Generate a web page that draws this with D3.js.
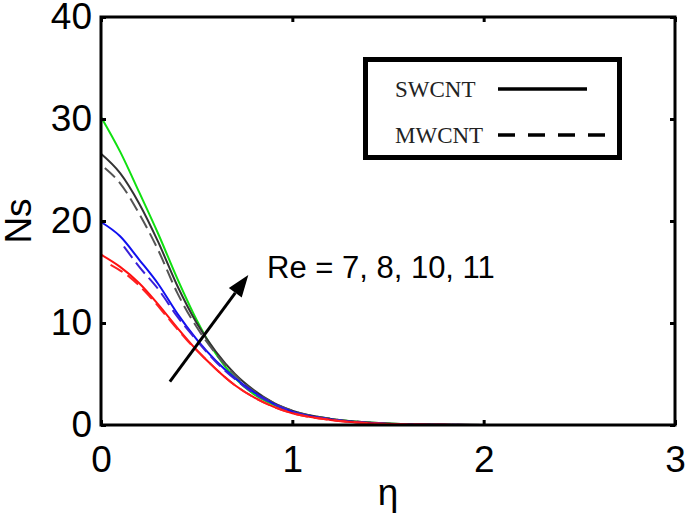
<!DOCTYPE html>
<html>
<head>
<meta charset="utf-8">
<script src="https://cdn.jsdelivr.net/npm/d3@7"></script>
<style>
  body { margin: 0; background: #fff; }
  svg { display: block; }
  .axis text { font-family: "Liberation Sans", Arial, sans-serif; font-size: 37px; fill: #000; }
  .axis line { stroke: #000; stroke-width: 3px; }
  .axis .domain { display: none; }
</style>
</head>
<body>
<div id="chart"></div>
<script>
// values
var xTicks = [0, 1, 2, 3];
var yTicks = [0, 10, 20, 30, 40];

// solid curves (SWCNT)
var etaSolid = [0, 0.1, 0.2, 0.3, 0.4, 0.5, 0.6, 0.7, 0.8, 0.9, 1.0, 1.2, 1.4, 1.6, 2.0, 2.5, 3.0];
var nsRe11Sw = [30.2, 26.8, 22.8, 18.7, 14.3, 10.3, 7.0, 4.6, 3.0, 2.0, 1.3, 0.6, 0.25, 0.08, 0, 0, 0];
var nsRe10Sw = [26.6, 24.7, 21.7, 17.9, 13.6, 10.0, 7.2, 5.0, 3.4, 2.2, 1.4, 0.6, 0.25, 0.08, 0, 0, 0];
var nsRe8Sw  = [19.9, 18.5, 16.2, 13.8, 10.9, 8.4, 6.3, 4.6, 3.2, 2.1, 1.3, 0.55, 0.2, 0.06, 0, 0, 0];
var nsRe7Sw  = [16.7, 15.5, 13.9, 11.8, 9.5, 7.35, 5.5, 3.9, 2.7, 1.8, 1.15, 0.5, 0.18, 0.05, 0, 0, 0];

// dashed curves (MWCNT)
var etaRe10Mw = [0.02, 0.1, 0.2, 0.3, 0.4, 0.5, 0.6, 0.7, 0.8, 0.9, 1.0, 1.2, 1.4, 1.6, 2.0];
var nsRe10Mw  = [25.2, 23.7, 20.7, 17.1, 12.9, 9.6, 7.0, 4.9, 3.3, 2.2, 1.4, 0.6, 0.25, 0.08, 0];
var etaRe8Mw  = [0.12, 0.2, 0.3, 0.4, 0.5, 0.6, 0.7, 0.8, 0.9, 1.0, 1.2, 1.4, 1.6, 2.0];
var nsRe8Mw   = [17.5, 15.5, 13.3, 10.6, 8.3, 6.2, 4.5, 3.1, 2.1, 1.3, 0.55, 0.2, 0.06, 0];
var etaRe7Mw  = [0.05, 0.15, 0.25, 0.35, 0.45, 0.55, 0.7, 0.8, 0.9, 1.0, 1.2, 1.4, 1.6, 2.0];
var nsRe7Mw   = [15.7, 14.5, 12.7, 10.5, 8.3, 6.4, 3.9, 2.7, 1.8, 1.15, 0.5, 0.18, 0.05, 0];

// arrow (data coords) and its label
var arrowFrom = [0.36, 4.25];
var arrowTo = [0.77, 14.7];
var arrowLabel = "Re = 7, 8, 10, 11";
var legendNames = ["SWCNT", "MWCNT"];

var series = [
  {eta: etaSolid,  ns: nsRe11Sw, color: "#10e010", dash: null},
  {eta: etaSolid,  ns: nsRe10Sw, color: "#333333", dash: null},
  {eta: etaRe10Mw, ns: nsRe10Mw, color: "#555555", dash: "14,6"},
  {eta: etaSolid,  ns: nsRe8Sw,  color: "#1010f0", dash: null},
  {eta: etaRe8Mw,  ns: nsRe8Mw,  color: "#3a20d8", dash: "14,6"},
  {eta: etaSolid,  ns: nsRe7Sw,  color: "#ff1010", dash: null},
  {eta: etaRe7Mw,  ns: nsRe7Mw,  color: "#ff2020", dash: "14,6"}
];

var W = 686, H = 525;
var plotL = 101, plotR = 675, plotT = 17, plotB = 425;

var svg = d3.select("#chart").append("svg")
    .attr("width", W)
    .attr("height", H);

var x = d3.scaleLinear().domain([0, 3]).range([plotL, plotR]);
var y = d3.scaleLinear().domain([0, 40]).range([plotB, plotT]);

// curves
var line = d3.line()
    .x(function(d) { return x(d[0]); })
    .y(function(d) { return y(d[1]); })
    .curve(d3.curveMonotoneX);

series.forEach(function(s) {
  var pts = s.eta.map(function(e, i) { return [e, s.ns[i]]; });
  svg.append("path")
      .attr("d", line(pts))
      .attr("fill", "none")
      .attr("stroke", s.color)
      .attr("stroke-width", 2)
      .attr("stroke-dasharray", s.dash);
});

// axes, ticks pointing inward
svg.append("g")
    .attr("class", "axis")
    .attr("transform", "translate(0," + plotB + ")")
    .call(d3.axisBottom(x).tickValues(xTicks).tickSize(-5).tickPadding(21).tickFormat(d3.format("d")));

svg.append("g")
    .attr("class", "axis")
    .attr("transform", "translate(" + plotL + ",0)")
    .call(d3.axisLeft(y).tickValues(yTicks).tickSize(-5).tickPadding(9).tickFormat(d3.format("d")));

svg.append("g")
    .attr("class", "axis")
    .attr("transform", "translate(0," + plotT + ")")
    .call(d3.axisTop(x).tickValues(xTicks).tickSize(-5).tickFormat(""));

svg.append("g")
    .attr("class", "axis")
    .attr("transform", "translate(" + plotR + ",0)")
    .call(d3.axisRight(y).tickValues(yTicks).tickSize(-5).tickFormat(""));

// frame
svg.append("rect")
    .attr("x", plotL).attr("y", plotT)
    .attr("width", plotR - plotL).attr("height", plotB - plotT)
    .attr("fill", "none")
    .attr("stroke", "#000")
    .attr("stroke-width", 3);

// axis titles
svg.append("text")
    .attr("transform", "translate(31," + (plotT + plotB) / 2 + ") rotate(-90)")
    .attr("text-anchor", "middle")
    .style("font-family", "Liberation Sans, Arial, sans-serif")
    .style("font-size", "37px")
    .text("Ns");

svg.append("text")
    .attr("x", (plotL + plotR) / 2)
    .attr("y", 505)
    .attr("text-anchor", "middle")
    .style("font-family", "Liberation Sans, Arial, sans-serif")
    .style("font-size", "37px")
    .text("η");

// arrow
var x1 = x(arrowFrom[0]), y1 = y(arrowFrom[1]);
var x2 = x(arrowTo[0]), y2 = y(arrowTo[1]);
var ang = Math.atan2(y2 - y1, x2 - x1);
var headLen = 22, headW = 8;
var bx = x2 - headLen * Math.cos(ang), by = y2 - headLen * Math.sin(ang);
svg.append("line")
    .attr("x1", x1).attr("y1", y1)
    .attr("x2", bx).attr("y2", by)
    .attr("stroke", "#000")
    .attr("stroke-width", 3);
svg.append("path")
    .attr("d", "M" + x2 + "," + y2 +
      "L" + (bx + headW * Math.sin(ang)) + "," + (by - headW * Math.cos(ang)) +
      "L" + (bx - headW * Math.sin(ang)) + "," + (by + headW * Math.cos(ang)) + "Z")
    .attr("fill", "#000");

svg.append("text")
    .attr("x", 267)
    .attr("y", 278)
    .style("font-family", "Liberation Sans, Arial, sans-serif")
    .style("font-size", "31px")
    .text(arrowLabel);

// legend box
svg.append("rect")
    .attr("x", 365.5).attr("y", 59.5)
    .attr("width", 254).attr("height", 98)
    .attr("fill", "#fff")
    .attr("stroke", "#000")
    .attr("stroke-width", 5);

var legY = [89, 135];
legendNames.forEach(function(name, i) {
  svg.append("text")
      .attr("x", 395)
      .attr("y", legY[i] + 8)
      .style("font-family", "Liberation Serif, Times New Roman, serif")
      .style("font-size", "23px")
      .style("fill", "#222")
      .text(name);
  svg.append("line")
      .attr("x1", 498).attr("y1", legY[i])
      .attr("x2", i === 0 ? 587 : 606).attr("y2", legY[i])
      .attr("stroke", "#000")
      .attr("stroke-width", 3.5)
      .attr("stroke-dasharray", i === 0 ? null : "17,13");
});
</script>
</body>
</html>
